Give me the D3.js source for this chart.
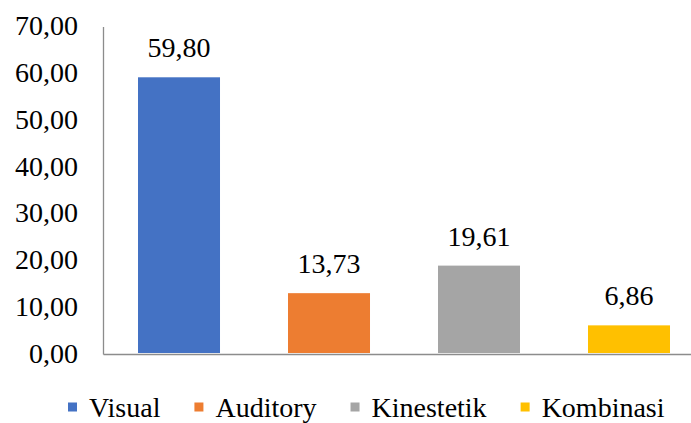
<!DOCTYPE html>
<html>
<head>
<meta charset="utf-8">
<script src="https://cdn.jsdelivr.net/npm/d3@7"></script>
<style>
  html, body { margin: 0; padding: 0; background: #fff; font-family: "Times New Roman", Tinos, "Liberation Serif", serif; }
  svg { display: block; }
  .lbl { font: 28px "Times New Roman", Tinos, "Liberation Serif", serif; fill: #000; }
</style>
</head>
<body>
<svg id="chart" width="691" height="423"></svg>
<script>
const categories = ["Visual", "Auditory", "Kinestetik", "Kombinasi"];
const values = [59.80, 13.73, 19.61, 6.86];
const colors = ["#4472C4", "#ED7D31", "#A5A5A5", "#FFC000"];
const tickValues = [0, 10, 20, 30, 40, 50, 60, 70];

const fmt = v => v.toFixed(2).replace(".", ",");

const svg = d3.select("#chart");
const W = 691, H = 423;

const y = d3.scaleLinear().domain([0, 70]).range([357.5, 29.5]);
const x = d3.scaleBand().domain(categories).range([104, 704])
  .paddingInner(0.4533).paddingOuter(0.2267);

const baseY = 354.5;
const axisX = 103.5;

// y axis tick labels (manual, via scale)
svg.append("g").selectAll("text").data(tickValues).join("text")
  .attr("class", "lbl")
  .attr("x", 78)
  .attr("y", d => y(d) - 3.5)
  .attr("dy", "0.32em")
  .attr("text-anchor", "end")
  .text(fmt);

// bars
svg.append("g").selectAll("rect").data(values).join("rect")
  .attr("x", (d, i) => x(categories[i]))
  .attr("width", x.bandwidth())
  .attr("y", d => y(d))
  .attr("height", d => Math.max(0, baseY - 1.5 - y(d)))
  .attr("fill", (d, i) => colors[i]);

// value labels
svg.append("g").selectAll("text").data(values).join("text")
  .attr("class", "lbl")
  .attr("x", (d, i) => x(categories[i]) + x.bandwidth() / 2)
  .attr("y", d => y(d) - 20)
  .attr("text-anchor", "middle")
  .text(d => fmt(d));

// axis lines
svg.append("line").attr("x1", axisX).attr("x2", axisX).attr("y1", 27).attr("y2", baseY)
  .attr("stroke", "#8c8c8c").attr("stroke-width", 1.3);
svg.append("line").attr("x1", axisX).attr("x2", W).attr("y1", baseY).attr("y2", baseY)
  .attr("stroke", "#8c8c8c").attr("stroke-width", 1.3);

// legend
const lg = svg.append("g");
let lx = 68;
categories.forEach((c, i) => {
  lg.append("rect").attr("x", lx).attr("y", 402.5).attr("width", 9).attr("height", 9)
    .attr("fill", colors[i]);
  const t = lg.append("text").attr("class", "lbl").attr("x", lx + 21).attr("y", 416.5).text(c);
  const w = t.node().getComputedTextLength();
  lx += 21 + w + 34;
});
</script>
</body>
</html>
